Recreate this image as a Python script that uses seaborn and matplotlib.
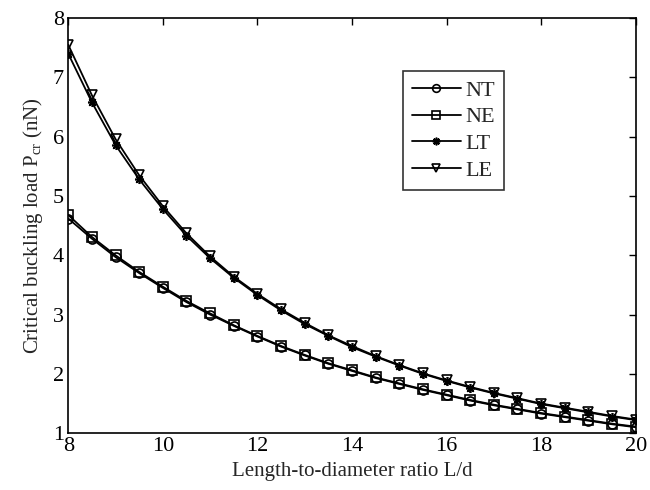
import numpy as np
import pandas as pd
import matplotlib
matplotlib.use("Agg")
import matplotlib.pyplot as plt
import seaborn as sns

ratio = [8, 8.5, 9, 9.5, 10, 10.5, 11, 11.5, 12, 12.5, 13, 13.5, 14, 14.5,
         15, 15.5, 16, 16.5, 17, 17.5, 18, 18.5, 19, 19.5, 20]
nt = [4.62, 4.28, 3.97, 3.70, 3.45, 3.21, 3.00, 2.81, 2.63, 2.46, 2.31, 2.17,
      2.05, 1.93, 1.83, 1.73, 1.64, 1.55, 1.47, 1.40, 1.33, 1.27, 1.21, 1.15, 1.10]
ne = [4.68, 4.31, 4.00, 3.72, 3.47, 3.23, 3.02, 2.82, 2.64, 2.47, 2.32, 2.18,
      2.06, 1.94, 1.84, 1.74, 1.65, 1.56, 1.48, 1.41, 1.34, 1.28, 1.22, 1.16, 1.11]
lt = [7.40, 6.58, 5.86, 5.28, 4.78, 4.33, 3.95, 3.62, 3.33, 3.07, 2.84, 2.64,
      2.45, 2.29, 2.14, 2.00, 1.88, 1.77, 1.67, 1.58, 1.49, 1.42, 1.35, 1.28, 1.22]
le = [7.55, 6.70, 5.96, 5.35, 4.83, 4.37, 3.98, 3.64, 3.35, 3.09, 2.86, 2.65,
      2.47, 2.30, 2.15, 2.01, 1.89, 1.78, 1.68, 1.59, 1.50, 1.43, 1.36, 1.29, 1.23]
series_names = ["NT", "NE", "LT", "LE"]
markers = ["o", "s", (8, 2, 0), "v"]

sns.set_style("white")
plt.rcParams["font.family"] = ["Liberation Serif", "DejaVu Serif"]
plt.rcParams["mathtext.fontset"] = "custom"
plt.rcParams["mathtext.rm"] = "Liberation Serif"
plt.rcParams["mathtext.default"] = "rm"

fig = plt.figure(figsize=(6.5, 4.9), dpi=100)
ax = fig.add_axes([0.105, 0.116, 0.873, 0.847])

for name, vals, mk in zip(series_names, [nt, ne, lt, le], markers):
    df = pd.DataFrame({"x": ratio, "y": vals})
    sns.lineplot(data=df, x="x", y="y", ax=ax, color="black", linewidth=1.3,
                 marker=mk, markersize=6.5, markerfacecolor="none",
                 markeredgecolor="black", markeredgewidth=1.2, label=name)

ax.set_xlim(8, 20)
ax.set_ylim(1, 8)
ax.set_xticks(np.arange(8, 21, 2))
ax.set_yticks(np.arange(1, 9, 1))
ax.tick_params(direction="in", top=True, right=True, length=5, width=1,
               labelsize=16, colors="black", pad=3)
for s in ax.spines.values():
    s.set_color("black")
    s.set_linewidth(1.2)
ax.set_xlabel("Length-to-diameter ratio L/d", fontsize=15, labelpad=4)
ax.set_ylabel(r"Critical buckling load P$_{\rm cr}$ (nN)", fontsize=15, labelpad=6)

leg = ax.legend(loc="upper left", bbox_to_anchor=(0.59, 0.872), frameon=True,
                fancybox=False, edgecolor="black", fontsize=16,
                handlelength=2.2, borderpad=0.4, labelspacing=0.28,
                handletextpad=0.2, borderaxespad=0, markerscale=0.85)
leg.get_frame().set_linewidth(1.2)

fig.savefig("out.png", dpi=100)
